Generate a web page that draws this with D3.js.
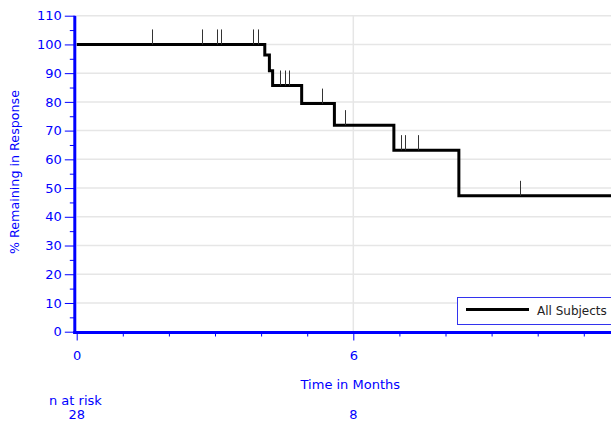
<!DOCTYPE html>
<html>
<head>
<meta charset="utf-8">
<script src="https://cdn.jsdelivr.net/npm/d3@7"></script>
<style>
  body { margin: 0; background: #fff; }
  svg text { font-family: "DejaVu Sans", sans-serif; }
</style>
</head>
<body>
<svg id="chart" width="611" height="423"></svg>
<script>
// Kaplan-Meier estimate: time (months) at which each step starts and the % still in response
const stepTimes = [0, 4.08, 4.18, 4.25, 4.88, 5.59, 6.88, 8.29];
const stepValues = [100, 96.3, 90.8, 85.7, 79.4, 71.9, 63.2, 47.3];
const followUpEnd = 12;
// Censored observations (months)
const censorTimes = [1.63, 2.72, 3.04, 3.13, 3.82, 3.93, 4.42, 4.52, 4.61, 5.33, 5.82, 7.03, 7.12, 7.41, 9.62];
// Number at risk table
const riskTimes = [0, 6];
const riskCounts = [28, 8];
const yTicks = [0, 10, 20, 30, 40, 50, 60, 70, 80, 90, 100, 110];
const xTicks = [0, 6];
const seriesName = "All Subjects";

const blue = "#0000ff";
const svg = d3.select("#chart");

const x = d3.scaleLinear().domain([0, 12]).range([76.7, 76.7 + 12 * 46.1]);
const y = d3.scaleLinear().domain([0, 110]).range([331.7, 15.7]);

// gridlines
svg.append("g").selectAll("line").data(yTicks.filter(d => d > 0)).join("line")
  .attr("x1", x(0)).attr("x2", 611)
  .attr("y1", d => y(d)).attr("y2", d => y(d))
  .attr("stroke", "#e6e6e6").attr("stroke-width", 1.5);
svg.append("g").selectAll("line").data(xTicks.filter(d => d > 0)).join("line")
  .attr("x1", d => x(d)).attr("x2", d => x(d))
  .attr("y1", y(0)).attr("y2", y(110))
  .attr("stroke", "#e6e6e6").attr("stroke-width", 1.5);

// survival curve
const curvePts = stepTimes.map((t, i) => [t, stepValues[i]]);
curvePts.push([followUpEnd, stepValues[stepValues.length - 1]]);
svg.append("path")
  .datum(curvePts)
  .attr("fill", "none")
  .attr("stroke", "#000")
  .attr("stroke-width", 3)
  .attr("d", d3.line().x(d => x(d[0])).y(d => y(d[1])).curve(d3.curveStepAfter));

// censor marks
function survivalAt(t) {
  let v = stepValues[0];
  stepTimes.forEach((s, i) => { if (s <= t) v = stepValues[i]; });
  return v;
}
svg.append("g").selectAll("line").data(censorTimes).join("line")
  .attr("x1", d => Math.round(x(d)) + 0.5).attr("x2", d => Math.round(x(d)) + 0.5)
  .attr("y1", d => y(survivalAt(d))).attr("y2", d => y(survivalAt(d)) - 15)
  .attr("stroke", "#333").attr("stroke-width", 1);

// axes
function styleAxis(g) {
  g.select(".domain").remove();
  g.selectAll("line").attr("stroke", blue).attr("stroke-width", 1);
  g.selectAll("text").attr("fill", blue).attr("font-size", 13)
    .attr("font-family", "DejaVu Sans, sans-serif");
}
const yAxisX = 74.8;
svg.append("g").attr("transform", `translate(${yAxisX},0)`)
  .call(d3.axisLeft(y).tickValues(d3.range(5, 110, 10)).tickSize(5).tickFormat(""))
  .call(styleAxis);
svg.append("g").attr("transform", `translate(${yAxisX},0)`)
  .call(d3.axisLeft(y).tickValues(yTicks).tickSize(10).tickPadding(3))
  .call(styleAxis);

const xAxisY = 332.5;
svg.append("g").attr("transform", `translate(0,${xAxisY})`)
  .call(d3.axisBottom(x).tickValues(d3.range(1, 12, 1).filter(d => d % 6 !== 0)).tickSize(4).tickFormat(""))
  .call(styleAxis);
svg.append("g").attr("transform", `translate(0,${xAxisY})`)
  .call(d3.axisBottom(x).tickValues(xTicks).tickSize(8).tickPadding(10))
  .call(styleAxis);

// axis lines
svg.append("line").attr("x1", yAxisX).attr("x2", yAxisX).attr("y1", y(110)).attr("y2", xAxisY + 1.5)
  .attr("stroke", blue).attr("stroke-width", 3);
svg.append("line").attr("x1", yAxisX - 1.5).attr("x2", 611).attr("y1", xAxisY).attr("y2", xAxisY)
  .attr("stroke", blue).attr("stroke-width", 3);

// axis titles
svg.append("text").attr("transform", "translate(18.5,172) rotate(-90)")
  .attr("text-anchor", "middle").attr("fill", blue).attr("font-size", 12.7)
  .text("% Remaining in Response");
svg.append("text").attr("x", x(6) - 3).attr("y", 389)
  .attr("text-anchor", "middle").attr("fill", blue).attr("font-size", 13)
  .text("Time in Months");

// number at risk
svg.append("text").attr("x", 49).attr("y", 405).attr("fill", blue).attr("font-size", 13)
  .text("n at risk");
svg.append("g").selectAll("text").data(riskTimes).join("text")
  .attr("x", d => x(d)).attr("y", 419)
  .attr("text-anchor", "middle").attr("fill", blue).attr("font-size", 13)
  .text((d, i) => riskCounts[i]);

// legend
const lg = svg.append("g");
lg.append("rect").attr("x", 457.5).attr("y", 297.5).attr("width", 200).attr("height", 27)
  .attr("fill", "#fff").attr("stroke", "#3333ee").attr("stroke-width", 1);
lg.append("line").attr("x1", 466).attr("x2", 529).attr("y1", 309.5).attr("y2", 309.5)
  .attr("stroke", "#000").attr("stroke-width", 3);
lg.append("text").attr("x", 537).attr("y", 315).attr("fill", "#222").attr("font-size", 12)
  .text(seriesName);
</script>
</body>
</html>
